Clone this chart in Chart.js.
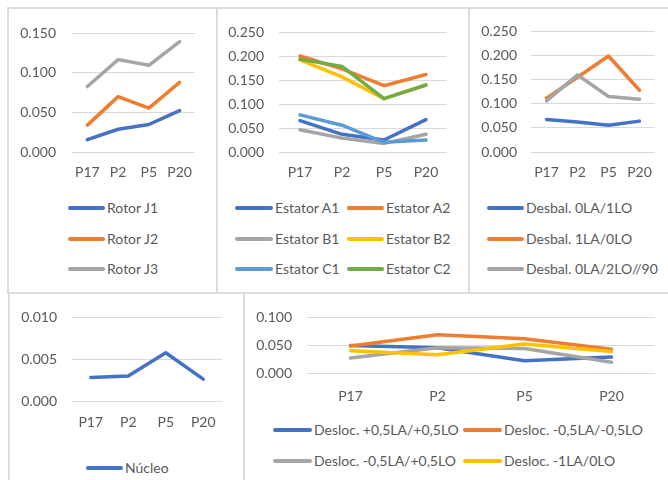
<!DOCTYPE html>
<html>
<head>
<meta charset="utf-8">
<script src="https://cdn.jsdelivr.net/npm/chart.js@4/dist/chart.umd.min.js"></script>
<style>
  html, body { margin: 0; padding: 0; background: #fff; }
  #root { position: relative; width: 668px; height: 480px; overflow: hidden; background: #fff;
          font-family: Lato, "Open Sans", sans-serif; color: #595959; }
  .frame { position: absolute; border: 2px solid #DCDCDC; box-sizing: border-box; }
  canvas { position: absolute; }
  .lg { position: absolute; display: flex; align-items: center; font-size: 14px; white-space: nowrap; height: 20px; line-height: 20px; }
  .lg .ln { display: inline-block; height: 4px; border-radius: 2px; margin-right: 2px; }
</style>
</head>
<body>
<div id="root">
  <div class="frame" style="left:7px;top:7px;width:211px;height:287px"></div>
  <div class="frame" style="left:216px;top:7px;width:254px;height:287px"></div>
  <div class="frame" style="left:468px;top:7px;width:210px;height:287px"></div>
  <div class="frame" style="left:8px;top:292px;width:237px;height:200px"></div>
  <div class="frame" style="left:243px;top:292px;width:435px;height:200px"></div>
  <canvas id="c1" width="206" height="182" style="left:9px;top:9px"></canvas>
  <canvas id="c2" width="250" height="182" style="left:218px;top:9px"></canvas>
  <canvas id="c3" width="198" height="182" style="left:470px;top:9px"></canvas>
  <canvas id="c4" width="233" height="151" style="left:10px;top:294px"></canvas>
  <canvas id="c5" width="422" height="121" style="left:245px;top:294px"></canvas>
</div>
<script>
// ---------- DATA ----------
const categories = ['P17', 'P2', 'P5', 'P20'];

const rotorNames = ['Rotor J1', 'Rotor J2', 'Rotor J3'];
const rotorJ1 = [0.0156, 0.0288, 0.0348, 0.0524];
const rotorJ2 = [0.0340, 0.0700, 0.0556, 0.0880];
const rotorJ3 = [0.0828, 0.1168, 0.1096, 0.1396];

const estatorNames = ['Estator A1', 'Estator A2', 'Estator B1', 'Estator B2', 'Estator C1', 'Estator C2'];
const estatorA1 = [0.0655, 0.0370, 0.0250, 0.0676];
const estatorA2 = [0.2007, 0.1736, 0.1385, 0.1620];
const estatorB1 = [0.0466, 0.0290, 0.0180, 0.0370];
const estatorB2 = [0.1926, 0.1570, 0.1115, 0.1400];
const estatorC1 = [0.0777, 0.0560, 0.0203, 0.0250];
const estatorC2 = [0.1940, 0.1790, 0.1115, 0.1400];

const desbalNames = ['Desbal. 0LA/1LO', 'Desbal. 1LA/0LO', 'Desbal. 0LA/2LO//90'];
const desbal0LA1LO = [0.0676, 0.0620, 0.0554, 0.0640];
const desbal1LA0LO = [0.1115, 0.1550, 0.1990, 0.1280];
const desbal0LA2LO90 = [0.1060, 0.1600, 0.1150, 0.1095];

const nucleoNames = ['Núcleo'];
const nucleo = [0.00281, 0.00300, 0.00577, 0.00262];

const deslocNames = ['Desloc. +0,5LA/+0,5LO', 'Desloc. -0,5LA/-0,5LO', 'Desloc. -0,5LA/+0,5LO', 'Desloc. -1LA/0LO'];
const deslocP05P05 = [0.0495, 0.0456, 0.0220, 0.0286];
const deslocM05M05 = [0.0484, 0.0687, 0.0615, 0.0429];
const deslocM05P05 = [0.0269, 0.0456, 0.0440, 0.0192];
const deslocM1_0 = [0.0400, 0.0330, 0.0520, 0.0385];

const yMax = [0.150, 0.250, 0.250, 0.010, 0.100];
const yStep = [0.050, 0.050, 0.050, 0.005, 0.050];

// ---------- STYLE ----------
const BLUE = '#4472C4', ORANGE = '#ED7D31', GRAY = '#A5A5A5', YELLOW = '#FFC000', LBLUE = '#5B9BD5', GREEN = '#70AD47';
const TXT = '#595959';
Chart.defaults.font.family = 'Lato, "Open Sans", sans-serif';
Chart.defaults.font.size = 14;
Chart.defaults.color = TXT;

function makeChart(id, canvasBox, plot, labelPad, xPad, names, series, colors, max, step) {
  const datasets = series.map((d, i) => ({
    label: names[i], data: d, borderColor: colors[i], backgroundColor: colors[i],
    borderWidth: 3.5, pointRadius: 0, tension: 0, fill: false,
    borderCapStyle: 'round', borderJoinStyle: 'round',
    order: series.length - i
  }));
  return new Chart(document.getElementById(id), {
    type: 'line',
    data: { labels: categories, datasets },
    options: {
      responsive: false, animation: false, devicePixelRatio: 1,
      layout: { padding: { left: 0, top: plot.top - canvasBox.top, right: canvasBox.right - plot.right, bottom: 0 } },
      plugins: { legend: { display: false }, tooltip: { enabled: false } },
      scales: {
        x: {
          type: 'category', offset: true,
          grid: { display: false }, border: { display: false },
          ticks: { padding: xPad, maxRotation: 0, autoSkip: false, color: TXT },
          afterFit: s => { s.height = canvasBox.bottom - plot.bottom; }
        },
        y: {
          min: 0, max: max,
          grid: { color: '#D9D9D9', lineWidth: 1, drawTicks: false }, border: { display: false },
          ticks: { stepSize: step, padding: labelPad, color: TXT, callback: v => Number(v).toFixed(3) },
          afterFit: s => { s.width = plot.left - canvasBox.left; }
        }
      }
    }
  });
}

function legend(names, colors, items) {
  const root = document.getElementById('root');
  names.forEach((n, i) => {
    const it = items[i];
    const d = document.createElement('div');
    d.className = 'lg';
    d.style.left = it.x + 'px';
    d.style.top = (it.y - 10) + 'px';
    const ln = document.createElement('span');
    ln.className = 'ln';
    ln.style.width = it.w + 'px';
    ln.style.background = colors[i];
    d.appendChild(ln);
    d.appendChild(document.createTextNode(n));
    root.appendChild(d);
  });
}

// Panel 1
const c1Colors = [BLUE, ORANGE, GRAY];
makeChart('c1', {left: 9, top: 9, right: 215, bottom: 191}, {left: 72, top: 28, right: 195, bottom: 152}, 16, 4,
  rotorNames, [rotorJ1, rotorJ2, rotorJ3], c1Colors, yMax[0], yStep[0]);
legend(rotorNames, c1Colors, [{x: 68, y: 208, w: 37}, {x: 68, y: 239, w: 37}, {x: 68, y: 269, w: 37}]);

// Panel 2
const c2Colors = [BLUE, ORANGE, GRAY, YELLOW, LBLUE, GREEN];
makeChart('c2', {left: 218, top: 9, right: 468, bottom: 191}, {left: 279, top: 28, right: 447, bottom: 152}, 15, 4,
  estatorNames, [estatorA1, estatorA2, estatorB1, estatorB2, estatorC1, estatorC2], c2Colors, yMax[1], yStep[1]);
legend(estatorNames, c2Colors, [
  {x: 235, y: 208, w: 38}, {x: 347, y: 208, w: 37},
  {x: 235, y: 239, w: 38}, {x: 347, y: 239, w: 37},
  {x: 235, y: 269, w: 38}, {x: 347, y: 269, w: 37}]);

// Panel 3
const c3Colors = [BLUE, ORANGE, GRAY];
makeChart('c3', {left: 470, top: 9, right: 668, bottom: 191}, {left: 531, top: 28, right: 655, bottom: 152}, 14, 4,
  desbalNames, [desbal0LA1LO, desbal1LA0LO, desbal0LA2LO90], c3Colors, yMax[2], yStep[2]);
legend(desbalNames, c3Colors, [{x: 487, y: 208, w: 37}, {x: 487, y: 239, w: 37}, {x: 487, y: 269, w: 37}]);

// Panel 4
const c4Colors = [BLUE];
makeChart('c4', {left: 10, top: 294, right: 243, bottom: 445}, {left: 72, top: 312, right: 222, bottom: 401}, 15, 5,
  nucleoNames, [nucleo], c4Colors, yMax[3], yStep[3]);
legend(nucleoNames, c4Colors, [{x: 86, y: 468, w: 37}]);

// Panel 5
const c5Colors = [BLUE, ORANGE, GRAY, YELLOW];
makeChart('c5', {left: 245, top: 294, right: 667, bottom: 415}, {left: 307, top: 312, right: 655, bottom: 373}, 15, 7,
  deslocNames, [deslocP05P05, deslocM05M05, deslocM05P05, deslocM1_0], c5Colors, yMax[4], yStep[4]);
legend(deslocNames, c5Colors, [
  {x: 273, y: 430, w: 39}, {x: 463, y: 430, w: 39},
  {x: 273, y: 461, w: 39}, {x: 463, y: 461, w: 39}]);
</script>
</body>
</html>
